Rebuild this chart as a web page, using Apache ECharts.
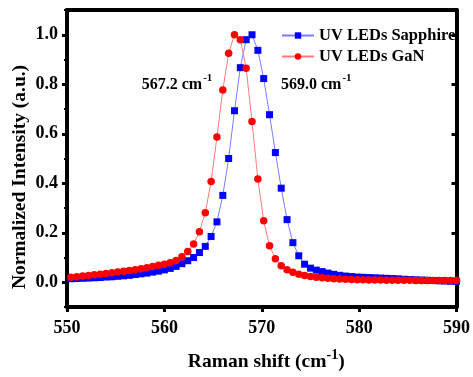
<!DOCTYPE html>
<html>
<head>
<meta charset="utf-8">
<script src="https://cdn.jsdelivr.net/npm/echarts@6/dist/echarts.min.js"></script>
<style>html,body{margin:0;padding:0;background:#fff;}#c{width:473px;height:377px;}</style>
</head>
<body>
<div id="c"></div>
<script>
// Raman shift sampling positions (cm^-1)
const wavenumber = [
  550.4, 551.0, 551.6, 552.2, 552.8, 553.4, 554.0, 554.6, 555.2, 555.8,
  556.4, 557.0, 557.6, 558.2, 558.8, 559.4, 560.0, 560.6, 561.2, 561.8,
  562.4, 563.0, 563.6, 564.2, 564.8, 565.4, 566.0, 566.6, 567.2, 567.8,
  568.4, 569.0, 569.6, 570.2, 570.8, 571.4, 572.0, 572.6, 573.2, 573.8,
  574.4, 575.0, 575.6, 576.2, 576.8, 577.4, 578.0, 578.6, 579.2, 579.8,
  580.4, 581.0, 581.6, 582.2, 582.8, 583.4, 584.0, 584.6, 585.2, 585.8,
  586.4, 587.0, 587.6, 588.2, 588.8, 589.4, 590.0
];
// UV LEDs Sapphire (normalized intensity)
const sapphire = [
  0.014, 0.015, 0.016, 0.017, 0.018, 0.019, 0.021, 0.022, 0.024, 0.026,
  0.028, 0.031, 0.034, 0.037, 0.041, 0.045, 0.050, 0.056, 0.064, 0.075,
  0.087, 0.100, 0.120, 0.145, 0.185, 0.244, 0.351, 0.500, 0.693, 0.867,
  0.980, 1.000, 0.937, 0.823, 0.677, 0.524, 0.380, 0.253, 0.160, 0.107,
  0.073, 0.057, 0.049, 0.043, 0.037, 0.032, 0.028, 0.025, 0.023, 0.021,
  0.020, 0.019, 0.018, 0.017, 0.016, 0.015, 0.014, 0.012, 0.011, 0.010,
  0.009, 0.008, 0.007, 0.006, 0.005, 0.004, 0.004
];
// UV LEDs GaN (normalized intensity)
const gan = [
  0.020, 0.022, 0.025, 0.027, 0.030, 0.032, 0.035, 0.038, 0.041, 0.044,
  0.047, 0.051, 0.055, 0.059, 0.064, 0.069, 0.073, 0.079, 0.088, 0.103,
  0.124, 0.155, 0.204, 0.281, 0.407, 0.587, 0.777, 0.925, 1.000, 0.980,
  0.865, 0.649, 0.417, 0.248, 0.147, 0.095, 0.067, 0.051, 0.040, 0.032,
  0.027, 0.023, 0.020, 0.018, 0.016, 0.014, 0.013, 0.012, 0.011, 0.010,
  0.010, 0.009, 0.009, 0.009, 0.008, 0.008, 0.008, 0.008, 0.008, 0.007,
  0.007, 0.007, 0.007, 0.007, 0.007, 0.007, 0.007
];
const xTicks = [550, 560, 570, 580, 590];
const yMajorTicks = [0.0, 0.2, 0.4, 0.6, 0.8, 1.0];
const yMinorTicks = [-0.1, 0.1, 0.3, 0.5, 0.7, 0.9, 1.1];
const seriesNames = ['UV LEDs Sapphire', 'UV LEDs GaN'];
const peakLabels = ['567.2 cm', '569.0 cm'];
const peakLabelPos = [[561.3, 0.805], [575.6, 0.805]];

const FONT = 'Liberation Serif';
const chart = echarts.init(document.getElementById('c'), null, {renderer: 'canvas'});
const rich = {
  a: {fontFamily: FONT, fontWeight: 'bold', fontSize: 16, color: '#000', lineHeight: 20, verticalAlign: 'bottom'},
  s: {fontFamily: FONT, fontWeight: 'bold', fontSize: 11, color: '#000', lineHeight: 20, verticalAlign: 'top', padding: [0, 0, 0, 1]}
};
const frameLine = {show: true, onZero: false, lineStyle: {color: '#000', width: 4}};
chart.setOption({
  animation: false,
  backgroundColor: '#fff',
  grid: {left: 67, right: 11, top: 10, bottom: 67, containLabel: false},
  legend: {
    data: seriesNames,
    orient: 'vertical',
    left: 281, top: 27, padding: 0,
    itemWidth: 32, itemHeight: 8, itemGap: 4,
    textStyle: {fontFamily: FONT, fontWeight: 'bold', fontSize: 16.5, color: '#000'}
  },
  xAxis: [{
    type: 'value', min: 550, max: 590, interval: 10, position: 'bottom',
    axisLine: frameLine,
    axisTick: {show: true, inside: false, length: 5, lineStyle: {color: '#000', width: 3}, customValues: xTicks},
    axisLabel: {fontFamily: FONT, fontWeight: 'bold', fontSize: 18, color: '#000', margin: 12, customValues: xTicks},
    splitLine: {show: false},
    name: '{a|Raman shift (cm}{s|-1}{a|)}',
    nameLocation: 'middle', nameGap: 41,
    nameTextStyle: {padding: [0, 0, 0, 9], rich: {
      a: {fontFamily: FONT, fontWeight: 'bold', fontSize: 19.5, color: '#000', lineHeight: 24, verticalAlign: 'bottom'},
      s: {fontFamily: FONT, fontWeight: 'bold', fontSize: 14, color: '#000', lineHeight: 24, verticalAlign: 'top'}
    }}
  }, {
    type: 'value', min: 550, max: 590, interval: 10, position: 'top',
    axisLine: frameLine,
    axisTick: {show: false}, axisLabel: {show: false}, splitLine: {show: false}
  }],
  yAxis: [{
    type: 'value', min: -0.1, max: 1.1, interval: 0.1, position: 'left',
    axisLine: frameLine,
    axisTick: {show: true, inside: false, length: 5, lineStyle: {color: '#000', width: 3}, customValues: yMajorTicks},
    axisLabel: {fontFamily: FONT, fontWeight: 'bold', fontSize: 18, color: '#000', margin: 9,
      customValues: yMajorTicks, formatter: v => v.toFixed(1)},
    splitLine: {show: false}
  }, {
    type: 'value', min: -0.1, max: 1.1, interval: 0.1, position: 'right',
    axisLine: frameLine,
    axisTick: {show: true, inside: true, length: 5, lineStyle: {color: '#000', width: 3}, customValues: yMajorTicks},
    axisLabel: {show: false}, splitLine: {show: false}
  }, {
    type: 'value', min: -0.1, max: 1.1, interval: 0.1, position: 'left',
    axisLine: {show: false, onZero: false},
    axisTick: {show: true, inside: false, length: 3, lineStyle: {color: '#000', width: 2}, customValues: yMinorTicks},
    axisLabel: {show: false}, splitLine: {show: false}
  }],
  graphic: [{
    type: 'text', x: 20, y: 177, rotation: Math.PI / 2,
    style: {text: 'Normalized Intensity (a.u.)', fontFamily: FONT, fontWeight: 'bold', fontSize: 19.5, fill: '#000',
      textAlign: 'center', textVerticalAlign: 'middle'}
  }],
  series: [{
    name: seriesNames[0], type: 'line', xAxisIndex: 0, yAxisIndex: 0,
    data: wavenumber.map((x, i) => [x, sapphire[i]]),
    symbol: 'rect', symbolSize: 7, showSymbol: true,
    itemStyle: {color: '#0000ff'},
    lineStyle: {color: '#7b7bff', width: 1},
    z: 2,
    markPoint: {
      symbol: 'circle', symbolSize: 0, silent: true,
      label: {show: true, position: 'inside', rich: rich},
      data: [{coord: peakLabelPos[1], label: {formatter: '{a|' + peakLabels[1] + '}{s|-1}'}}]
    }
  }, {
    name: seriesNames[1], type: 'line', xAxisIndex: 0, yAxisIndex: 0,
    data: wavenumber.map((x, i) => [x, gan[i]]),
    symbol: 'circle', symbolSize: 7.5, showSymbol: true,
    itemStyle: {color: '#ff0000'},
    lineStyle: {color: '#ff7b7b', width: 1},
    z: 3,
    markPoint: {
      symbol: 'circle', symbolSize: 0, silent: true,
      label: {show: true, position: 'inside', rich: rich},
      data: [{coord: peakLabelPos[0], label: {formatter: '{a|' + peakLabels[0] + '}{s|-1}'}}]
    }
  }]
});
</script>
</body>
</html>
